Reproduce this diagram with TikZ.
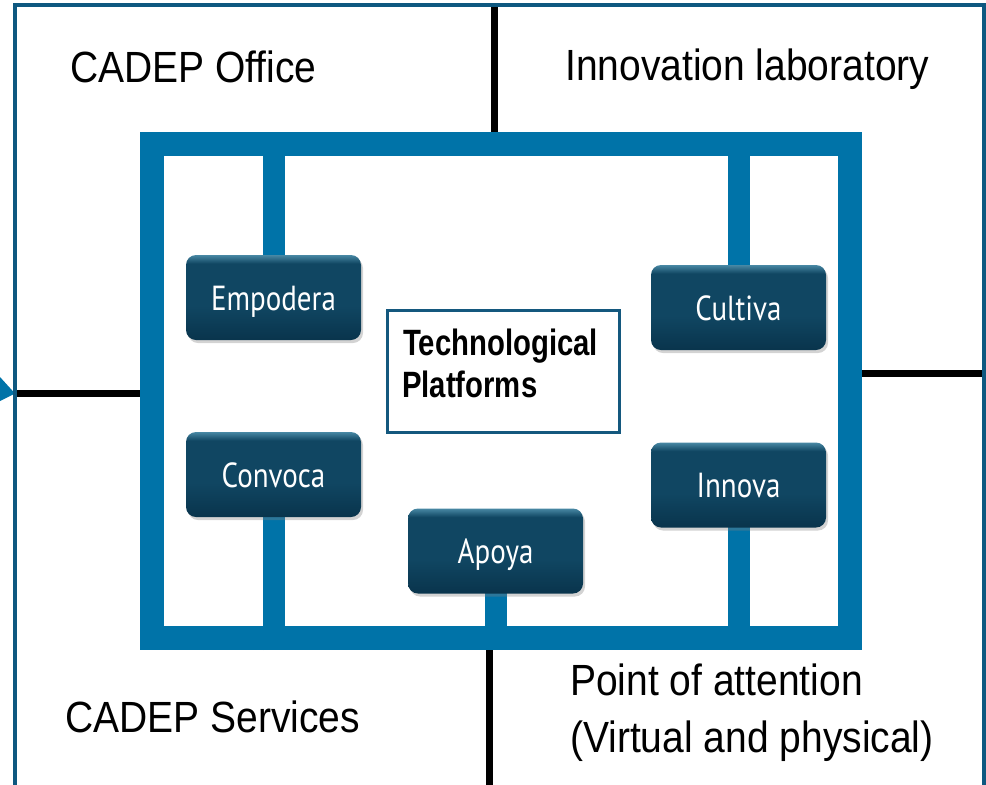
\documentclass[tikz,border=0pt]{standalone}
\usepackage{fontspec}
\setmainfont{Liberation Sans}
\newfontfamily\btnfont{PT Sans}
\usetikzlibrary{shadows,backgrounds}
\definecolor{frameblue}{RGB}{0,115,168}
\definecolor{edgeblue}{RGB}{14,88,128}
\definecolor{boxblue}{RGB}{20,88,126}
\definecolor{btntop}{RGB}{72,136,164}
\definecolor{btnmid}{RGB}{16,70,98}
\definecolor{btnbot}{RGB}{9,52,76}
\pgfdeclareverticalshading{btnshade}{100bp}{color(0bp)=(btnbot); color(25bp)=(btnbot); color(45bp)=(btnmid); color(70bp)=(btnmid); color(75bp)=(btntop); color(100bp)=(btntop)}
\newcommand\vsc[2]{\scalebox{1}[#1]{#2}}
\begin{document}
\begin{tikzpicture}[x=1pt,y=-1pt,
  area/.style={anchor=base west,inner sep=0pt,font=\fontsize{39}{45}\selectfont},
  tptext/.style={anchor=base west,inner sep=0pt,font=\bfseries\fontsize{29.3}{34}\selectfont},
  btn/.style={rounded corners=10pt,minimum width=175pt,minimum height=85pt,inner sep=0pt,
    shading=btnshade,
    drop shadow={opacity=0.35,shadow xshift=2pt,shadow yshift=-3pt},
    text=white,text height=25pt,text depth=0pt,font=\btnfont\fontsize{29}{34}\selectfont},
  stub/.style={frameblue,line width=22pt},
  divider/.style={black,line width=7pt},
  outline/.style={edgeblue,line width=3.5pt},
]
\useasboundingbox (0,0) rectangle (986,785);

% coordinates of divider ends
\coordinate (ltip) at (15,393.5);
\coordinate (tdiv) at (494,5);
\coordinate (rdiv) at (984,373.5);
\coordinate (bdiv) at (489.5,785);

% inner frame
\node[draw=frameblue,line width=24pt,minimum width=698pt,minimum height=494pt,inner sep=0pt] (frame) at (501,391) {};

% dividers (behind the frame)
\begin{scope}[on background layer]
\draw[divider] (ltip) -- (ltip -| frame.west);
\draw[divider] (tdiv) -- (tdiv |- frame.north);
\draw[divider] (rdiv) -- (rdiv -| frame.east);
\draw[divider] (bdiv) -- (bdiv |- frame.south);
\end{scope}

% left arrow head
\fill[frameblue] (0,377) -- (ltip) -- (0,401) -- cycle;

% buttons
\coordinate (empc) at (273.5,297.5);
\coordinate (culc) at (738.5,307.5);
\coordinate (conc) at (273.5,474.5);
\coordinate (innc) at (738.5,485);
\coordinate (apoc) at (495.5,551);

\draw[stub] (empc |- frame.north) -- (empc);
\draw[stub] (culc |- frame.north) -- (culc);
\draw[stub] (conc |- frame.south) -- (conc);
\draw[stub] (innc |- frame.south) -- (innc);
\draw[stub] (apoc |- frame.south) -- (apoc);

\node[btn] (emp) at (empc) {\vsc{1.2}{Empodera}};
\node[btn] (cul) at (culc) {\vsc{1.2}{Cultiva}};
\node[btn] (con) at (conc) {\vsc{1.2}{Convoca}};
\node[btn] (inn) at (innc) {\vsc{1.2}{Innova}};
\node[btn] (apo) at (apoc) {\vsc{1.2}{Apoya}};

% central box
\node[draw=boxblue,line width=3pt,fill=white,minimum width=232pt,minimum height=122pt,inner sep=0pt] (tp) at (503.5,371) {};
\node[tptext] (tp1) at (403,355) {\vsc{1.25}{Technological}};
\node[tptext] (tp2) at (402,397) {\vsc{1.25}{Platforms}};

% area labels
\node[area] (office) at (70,82) {\vsc{1.12}{CADEP Office}};
\node[area] (lab) at (565,80) {\vsc{1.12}{Innovation laboratory}};
\node[area] (poa1) at (570,695) {\vsc{1.12}{Point of attention}};
\node[area] (poa2) at (570,752) {\vsc{1.12}{(Virtual and physical)}};
\node[area] (serv) at (65,732) {\vsc{1.12}{CADEP Services}};

% outer outline
\draw[outline] (15,785) -- (15,5) -- (984,5) -- (984,785);
\end{tikzpicture}
\end{document}
